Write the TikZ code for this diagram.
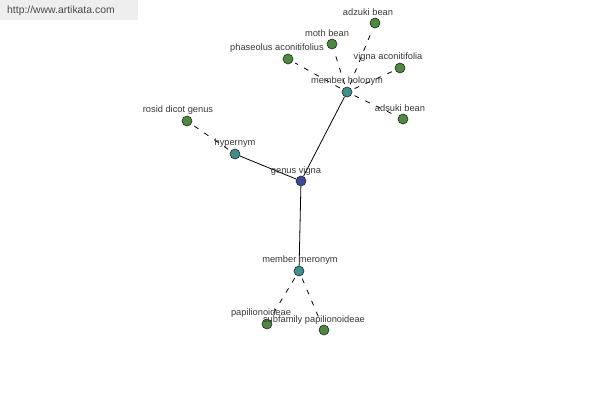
\documentclass[tikz,border=0pt]{standalone}
\usepackage{fontspec}
\setmainfont{Liberation Sans}
\begin{document}
\begin{tikzpicture}[x=1pt,y=-1pt,font=\fontsize{9.3}{11}\selectfont]
\definecolor{ink}{HTML}{3A3A3A}\definecolor{inkii}{HTML}{4A4A4A}
\definecolor{band}{HTML}{EEEEEE}\definecolor{hub}{HTML}{3E4A98}
\definecolor{rel}{HTML}{3C9090}\definecolor{leaf}{HTML}{4C8A3E}
\tikzset{dot/.style={circle,draw=black!85,line width=0.6pt,inner sep=0,minimum size=10pt},
  tag/.style={text=ink,inner sep=0},
  link/.style={black,line width=0.8pt},
  loose/.style={black,line width=0.8pt,dash pattern=on 5pt off 7pt,shorten >=3pt,shorten <=3pt}}
\useasboundingbox (0,0) rectangle (600,400);
\fill[band] (0,0) rectangle (138,20);
\node[anchor=west,text=inkii,inner sep=0,font=\fontsize{10.4}{12}\selectfont] (site) at (7,11) {http://www.artikata.com};
% centre and relation nodes
\node[dot,fill=hub] (vigna) at (301,181) {};
\node[dot,fill=rel] (hyper) at (235,154) {};
\node[dot,fill=rel] (holo) at (347,92) {};
\node[dot,fill=rel] (mero) at (299,271) {};
% leaves
\node[dot,fill=leaf] (rosid) at (187,121) {};
\node[dot,fill=leaf] (adzuki) at (375,23) {};
\node[dot,fill=leaf] (moth) at (332,44) {};
\node[dot,fill=leaf] (phaseolus) at (288,59) {};
\node[dot,fill=leaf] (aconit) at (400,68) {};
\node[dot,fill=leaf] (adsuki) at (403,119) {};
\node[dot,fill=leaf] (papil) at (267,324) {};
\node[dot,fill=leaf] (subfam) at (324,330) {};
% connectors
\draw[link] (vigna) -- (hyper);
\draw[link] (vigna) -- (holo);
\draw[link] (vigna) -- (mero);
\draw[loose] (hyper) -- (rosid);
\foreach \leafname in {adzuki,moth,phaseolus,aconit,adsuki}
  \draw[loose] (holo) -- (\leafname);
\draw[loose] (mero) -- (papil);
\draw[loose] (mero) -- (subfam);
% labels
\node[tag] (vignatag) at (296,171) {genus vigna};
\node[tag] (hypertag) at (235,143) {hypernym};
\node[tag] (holotag) at (347,81) {member holonym};
\node[tag] (merotag) at (300,260) {member meronym};
\node[tag] (rosidtag) at (178,110) {rosid dicot genus};
\node[tag] (adzukitag) at (368,12) {adzuki bean};
\node[tag] (mothtag) at (327,33) {moth bean};
\node[tag] (phaseolustag) at (277,48) {phaseolus aconitifolius};
\node[tag] (aconittag) at (388,57) {vigna aconitifolia};
\node[tag] (adsukitag) at (400,108) {adsuki bean};
\node[tag] (papiltag) at (261,313) {papilionoideae};
\node[tag] (subfamtag) at (314,320) {subfamily papilionoideae};
\end{tikzpicture}
\end{document}
